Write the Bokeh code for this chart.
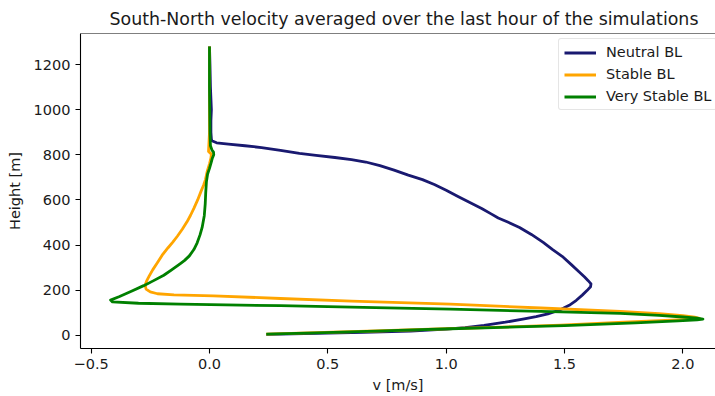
from bokeh.plotting import figure
from bokeh.models import Span, FixedTicker, Legend, LegendItem
from bokeh.embed import file_html
from bokeh.resources import INLINE

# Neutral BL
neutral_v = [0.0, 0.002, 0.004, 0.008, 0.006, 0.006, 0.008, 0.010, 0.03, 0.08, 0.15, 0.22, 0.30, 0.38,
             0.45, 0.53, 0.60, 0.66, 0.72, 0.78, 0.84, 0.90, 0.95, 1.00, 1.05, 1.10, 1.15, 1.19,
             1.22, 1.26, 1.31, 1.36, 1.41, 1.45, 1.49, 1.53, 1.56, 1.585, 1.60, 1.612, 1.61,
             1.595, 1.575, 1.55, 1.52, 1.48, 1.43, 1.38, 1.33, 1.25, 1.16, 1.08, 1.00, 0.85,
             0.65, 0.45, 0.30, 0.24]
neutral_h = [1280, 1200, 1100, 1000, 950, 900, 870, 862, 853, 847, 840, 832, 820, 806,
             797, 788, 779, 768, 752, 732, 710, 690, 668, 643, 615, 588, 562, 538,
             520, 502, 478, 447, 412, 380, 350, 312, 283, 258, 242, 228, 215,
             198, 178, 155, 133, 112, 95, 83, 73, 58, 44, 34, 27, 19,
             13, 8, 5, 4]

# Stable BL
stable_v = [0.0, 0.0, -0.004, 0.008, 0.006, 0.0, -0.01, -0.017, -0.025, -0.035, -0.05, -0.065,
            -0.08, -0.095, -0.115, -0.135, -0.155, -0.175, -0.20, -0.221, -0.24, -0.255, -0.266,
            -0.272, -0.268, -0.25, -0.22, -0.15, 0.017, 0.30, 0.60, 1.018, 1.40, 1.736, 1.90,
            2.00, 2.05, 2.07, 2.04, 1.95, 1.75, 1.484, 1.20, 1.00, 0.70, 0.45, 0.24]
stable_h = [1280, 900, 815, 803, 785, 760, 725, 690, 665, 640, 600, 565,
            532, 503, 470, 440, 413, 388, 355, 320, 290, 262, 240,
            222, 205, 192, 184, 179, 175, 163, 151, 138, 121, 106, 96,
            87, 80, 75, 71, 67, 58, 45, 35, 29, 19, 12, 5]

# Very Stable BL
vstable_v = [0.0, 0.0, 0.002, 0.004, 0.010, 0.017, 0.018, 0.012, 0.007, 0.0, -0.008, -0.013,
             -0.016, -0.018, -0.022, -0.031, -0.040, -0.052, -0.066, -0.085, -0.105, -0.123,
             -0.16, -0.193, -0.24, -0.278, -0.33, -0.38, -0.418, -0.41, -0.30, -0.123, 0.30,
             0.70, 1.018, 1.40, 1.736, 1.90, 2.00, 2.06, 2.085, 2.06, 1.98, 1.80, 1.50, 1.20,
             1.018, 0.70, 0.45, 0.24]
vstable_h = [1280, 1100, 900, 840, 822, 812, 800, 785, 765, 740, 715, 680,
             630, 582, 530, 478, 445, 410, 380, 352, 332, 318,
             290, 266, 240, 220, 195, 172, 156, 148, 142, 138, 131,
             123, 116, 106, 97, 88, 81, 76, 72, 68, 64, 55, 43, 34,
             29, 18, 11, 5]

x_ticks = [-0.5, 0.0, 0.5, 1.0, 1.5, 2.0]
x_tick_labels = ["\u22120.5", "0.0", "0.5", "1.0", "1.5", "2.0"]
y_ticks = [0, 200, 400, 600, 800, 1000, 1200]

FONT = "DejaVu Sans"
TXT = "#1a1a1a"
FS = "14.5px"

p = figure(width=715, height=396, output_backend="svg", toolbar_location=None,
           x_range=(-0.545, 2.138), y_range=(-58.6, 1337.6),
           min_border_left=80, min_border_right=0, min_border_top=33, min_border_bottom=48)
p.background_fill_color = "white"
p.border_fill_color = "white"
p.outline_line_color = None
p.xgrid.visible = False
p.ygrid.visible = False

p.title.text = "South-North velocity averaged over the last hour of the simulations"
p.title.text_font = FONT
p.title.text_font_size = "17.4px"
p.title.text_font_style = "normal"
p.title.text_color = TXT
p.title.align = "left"
p.title.offset = 29

r1 = p.line(neutral_v, neutral_h, line_color="midnightblue", line_width=2.8, line_join="round")
r2 = p.line(stable_v, stable_h, line_color="orange", line_width=2.8, line_join="round")
r3 = p.line(vstable_v, vstable_h, line_color="green", line_width=2.8, line_join="round")

top = Span(location=1337.6, dimension="width", line_color="black", line_width=1.1)
p.add_layout(top)

for ax in (p.xaxis[0], p.yaxis[0]):
    ax.axis_line_color = "black"
    ax.axis_line_width = 1.1
    ax.major_tick_line_color = "black"
    ax.major_tick_line_width = 1.1
    ax.major_tick_in = 0
    ax.major_tick_out = 5
    ax.minor_tick_line_color = None
    ax.major_label_text_font = FONT
    ax.major_label_text_font_size = FS
    ax.major_label_text_color = TXT
    ax.axis_label_text_font = FONT
    ax.axis_label_text_font_size = FS
    ax.axis_label_text_font_style = "normal"
    ax.axis_label_text_color = TXT
    ax.major_label_standoff = 5

p.xaxis[0].ticker = FixedTicker(ticks=x_ticks)
p.xaxis[0].major_label_overrides = {t: l for t, l in zip(x_ticks, x_tick_labels)}
p.xaxis[0].axis_label = "v [m/s]"
p.xaxis[0].axis_label_standoff = 5
p.yaxis[0].ticker = FixedTicker(ticks=y_ticks)
p.yaxis[0].axis_label = "Height [m]"
p.yaxis[0].axis_label_standoff = 8

legend = Legend(items=[LegendItem(label="Neutral BL", renderers=[r1]),
                       LegendItem(label="Stable BL", renderers=[r2]),
                       LegendItem(label="Very Stable BL", renderers=[r3])],
                location=(478, 238))
legend.label_text_font = FONT
legend.label_text_font_size = FS
legend.label_text_color = TXT
legend.border_line_color = "#cccccc"
legend.border_line_width = 1
legend.background_fill_alpha = 0.8
legend.border_radius = 3
legend.padding = 5
legend.margin = 0
legend.spacing = 6
legend.glyph_width = 32
legend.glyph_height = 15
legend.label_height = 15
legend.label_standoff = 10
p.add_layout(legend, "center")

open("out.html", "w").write(file_html(p, INLINE))
